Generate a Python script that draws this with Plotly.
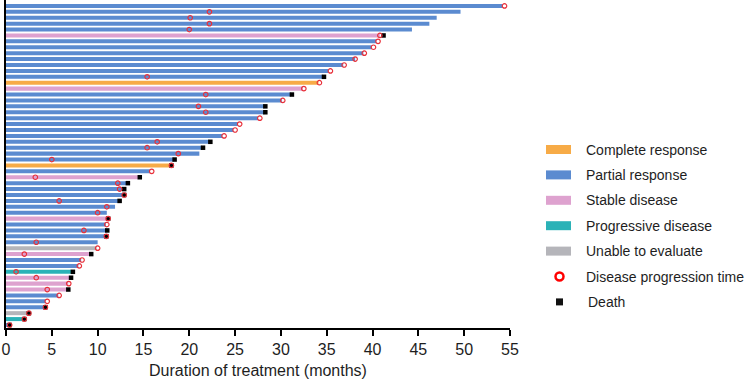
import plotly.graph_objects as go

# ---------------- data (top row first) ----------------
patients = [f"P{i}" for i in range(1, 56)]

duration = [54.2, 49.6, 47.0, 46.2, 44.3, 40.8, 40.4, 39.9, 39.0, 38.1,
            36.8, 35.2, 34.6, 34.1, 32.4, 31.1, 30.1, 28.2, 28.2, 27.5,
            25.3, 24.8, 23.6, 22.2, 21.4, 21.1, 18.3, 18.0, 15.7, 14.4,
            13.1, 12.8, 12.8, 12.3, 11.9, 11.0, 11.1, 10.9, 11.0, 10.9,
            10.0, 9.9, 9.1, 8.2, 7.9, 7.1, 6.9, 6.8, 6.6, 5.7,
            4.3, 4.1, 2.4, 1.8, 0.2]

response = ["PR", "PR", "PR", "PR", "PR", "SD", "PR", "PR", "PR", "PR",
            "PR", "PR", "PR", "CR", "SD", "PR", "PR", "PR", "PR", "PR",
            "PR", "PR", "PR", "PR", "PR", "PR", "PR", "CR", "PR", "SD",
            "PR", "PR", "PR", "PR", "PR", "PR", "SD", "PR", "PR", "PR",
            "PR", "UE", "SD", "PR", "PR", "PD", "SD", "SD", "SD", "PR",
            "PR", "PR", "UE", "PD", "PR"]

progression = [54.4, 22.2, 20.1, 22.2, 20.0, 40.8, 40.6, 40.1, 39.1, 38.1,
               36.9, 35.4, 15.4, 34.2, 32.5, 21.8, 30.2, 21.0, 21.8, 27.7,
               25.5, 25.0, 23.8, 16.5, 15.4, 18.8, 5.0, 18.05, 15.9, 3.2,
               12.2, 12.4, 12.9, 5.8, 11.0, 10.0, 11.15, 11.0, 8.5, 10.95,
               3.3, 10.0, 2.0, 8.3, 8.0, 1.1, 3.3, 6.85, 4.5, 5.8,
               4.5, 4.3, 2.5, 2.0, 0.4]

death = [None, None, None, None, None, 41.2, None, None, None, None,
         None, None, 34.7, None, None, 31.2, None, 28.3, 28.3, None,
         None, None, None, 22.3, 21.5, None, 18.4, 18.05, None, 14.6,
         13.3, 12.9, 12.9, 12.4, None, None, 11.15, None, 11.05, 10.95,
         None, None, 9.3, None, None, 7.3, 7.1, None, 6.8, None,
         None, 4.3, 2.5, 2.0, 0.4]

resp_codes = ["CR", "PR", "SD", "PD", "UE"]
resp_labels = ["Complete response", "Partial response", "Stable disease",
               "Progressive disease", "Unable to evaluate"]
resp_colors = ["#F7AB47", "#5B8BD0", "#DEA2CF", "#2BB2B7", "#B5B5BA"]
marker_labels = ["Disease progression time", "Death"]

x_ticks = [0, 5, 10, 15, 20, 25, 30, 35, 40, 45, 50, 55]

# ---------------- figure ----------------
W, H = 747, 379
ML, MR, MT, MB = 6, 237, 0, 51
PW, PH = W - ML - MR, H - MT - MB

fig = go.Figure()

for code, lab, col in zip(resp_codes, resp_labels, resp_colors):
    xs = [d for d, r in zip(duration, response) if r == code]
    ys = [p for p, r in zip(patients, response) if r == code]
    fig.add_trace(go.Bar(x=xs, y=ys, orientation="h", name=lab,
                         marker=dict(color=col, line=dict(width=0)),
                         width=0.68, showlegend=False))

dx = [d for d in death if d is not None]
dy = [p for p, d in zip(patients, death) if d is not None]
fig.add_trace(go.Scatter(x=dx, y=dy, mode="markers", name="Death",
                         marker=dict(symbol="square", size=4.5, color="black",
                                     line=dict(width=0)),
                         showlegend=False, cliponaxis=False))

px_ = [v for v in progression if v is not None]
py_ = [p for p, v in zip(patients, progression) if v is not None]
fig.add_trace(go.Scatter(x=px_, y=py_, mode="markers",
                         name="Disease progression time",
                         marker=dict(symbol="circle-open", size=4.5,
                                     color="#E8303A", line=dict(width=1.2)),
                         showlegend=False, cliponaxis=False))

# ---------------- manual legend ----------------
def xp(px):
    return (px - ML) / PW


def yp(py):
    return 1 - (py - MT) / PH


leg_x = 558.5
text_x = 584
row_y0, row_dy = 149.5, 25.4
shapes, annos = [], []
for i, (lab, col) in enumerate(zip(resp_labels, resp_colors)):
    yy = yp(row_y0 + i * row_dy)
    shapes.append(dict(type="rect", xref="paper", yref="paper",
                       xsizemode="pixel", ysizemode="pixel",
                       xanchor=xp(leg_x), yanchor=yy,
                       x0=-12.5, x1=12.5, y0=-4.5, y1=4.5,
                       fillcolor=col, line=dict(width=0)))
    annos.append(dict(text=lab, xref="paper", yref="paper", x=xp(text_x), y=yy,
                      xanchor="left", yanchor="middle", showarrow=False,
                      font=dict(size=14, color="#1e1e1e")))
yy = yp(row_y0 + 5 * row_dy)
shapes.append(dict(type="circle", xref="paper", yref="paper",
                   xsizemode="pixel", ysizemode="pixel",
                   xanchor=xp(leg_x + 1), yanchor=yy,
                   x0=-4, x1=4, y0=-4, y1=4,
                   fillcolor="white", line=dict(color="#FF0000", width=2.5)))
annos.append(dict(text=marker_labels[0], xref="paper", yref="paper", x=xp(text_x), y=yy,
                  xanchor="left", yanchor="middle", showarrow=False,
                  font=dict(size=14, color="#1e1e1e")))
yy = yp(row_y0 + 6 * row_dy)
shapes.append(dict(type="rect", xref="paper", yref="paper",
                   xsizemode="pixel", ysizemode="pixel",
                   xanchor=xp(leg_x + 1), yanchor=yy,
                   x0=-3.5, x1=3.5, y0=-3.5, y1=3.5,
                   fillcolor="#111111", line=dict(width=0)))
annos.append(dict(text=marker_labels[1], xref="paper", yref="paper", x=xp(text_x + 2), y=yy,
                  xanchor="left", yanchor="middle", showarrow=False,
                  font=dict(size=14, color="#1e1e1e")))

fig.update_layout(
    width=W, height=H,
    margin=dict(l=ML, r=MR, t=MT, b=MB, autoexpand=False),
    paper_bgcolor="white", plot_bgcolor="white",
    font=dict(family="Liberation Sans, Arial, sans-serif", color="#1e1e1e"),
    barmode="overlay",
    showlegend=False,
    shapes=shapes, annotations=annos,
    xaxis=dict(range=[0, 55], tickmode="array", tickvals=x_ticks,
               ticks="outside", ticklen=6, tickwidth=2, tickcolor="black",
               showline=True, linewidth=2, linecolor="black",
               showgrid=False, zeroline=False, automargin=False,
               tickfont=dict(size=16),
               title=dict(text="Duration of treatment (months)",
                          font=dict(size=16), standoff=11)),
    yaxis=dict(type="category", categoryorder="array",
               categoryarray=patients[::-1], range=[-0.51, 55.0],
               showline=True, linewidth=2, linecolor="black", automargin=False,
               showticklabels=False, ticks="", showgrid=False, zeroline=False),
)

fig.write_html("out.html",
               config={"displayModeBar": False},
               post_script="document.body.style.margin='0';"
                           "document.body.style.padding='0';"
                           "document.body.style.overflow='hidden';")
